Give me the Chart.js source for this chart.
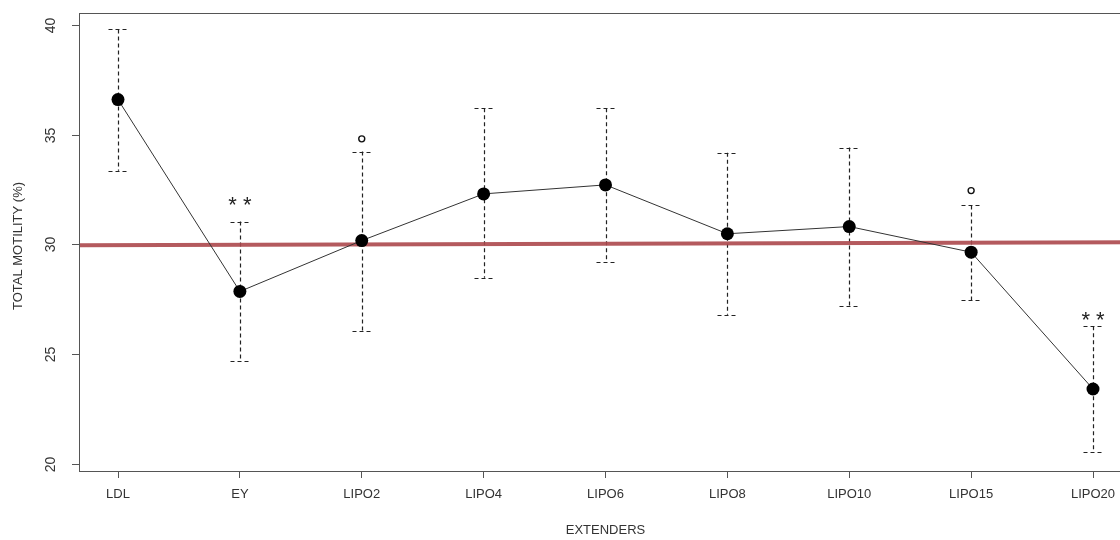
<!DOCTYPE html>
<html>
<head>
<meta charset="utf-8">
<script src="https://cdn.jsdelivr.net/npm/chart.js@4.4.1/dist/chart.umd.min.js"></script>
<style>
  html, body { margin: 0; padding: 0; background: #fff; overflow: hidden; }
  #wrap { width: 1120px; height: 540px; overflow: hidden; }
  canvas { display: block; }
</style>
</head>
<body>
<div id="wrap"><canvas id="chart" width="1140" height="540"></canvas></div>
<script>
// values
const categories = ['LDL', 'EY', 'LIPO2', 'LIPO4', 'LIPO6', 'LIPO8', 'LIPO10', 'LIPO15', 'LIPO20'];
const means = [36.6, 27.85, 30.17, 32.3, 32.71, 30.48, 30.81, 29.64, 23.4];
const upper = [39.8, 31.04, 34.23, 36.2, 36.2, 34.18, 34.41, 31.77, 26.26];
const lower = [33.36, 24.69, 26.03, 28.47, 29.2, 26.79, 27.2, 27.44, 20.51];
const sigMarks = ['', '**', 'o', '', '', '', '', 'o', '**'];
const sigY = [null, 31.95, 34.81, null, null, null, null, 32.45, 26.7];
const refX = [0.68, 9.32];
const refY = [29.96, 30.09];
const yTicks = [20, 25, 30, 35, 40];

const FONT = '"Liberation Sans", Arial, sans-serif';
const axisColor = '#555';

// dashed error bars + frame, drawn under the points
const errorBars = {
  id: 'errorBars',
  beforeDatasetsDraw(chart) {
    const { ctx, scales: { x, y } } = chart;
    ctx.save();
    ctx.strokeStyle = '#222';
    ctx.lineWidth = 1.2;
    ctx.setLineDash([4, 3]);
    for (let i = 0; i < categories.length; i++) {
      const px = Math.round(x.getPixelForValue(i + 1)) + 0.5;
      const top = y.getPixelForValue(upper[i]);
      const bot = y.getPixelForValue(lower[i]);
      ctx.beginPath();
      ctx.moveTo(px, top);
      ctx.lineTo(px, bot);
      ctx.moveTo(px - 10, Math.round(top) + 0.5);
      ctx.lineTo(px + 10, Math.round(top) + 0.5);
      ctx.moveTo(px - 10, Math.round(bot) + 0.5);
      ctx.lineTo(px + 10, Math.round(bot) + 0.5);
      ctx.stroke();
    }
    ctx.restore();
  },
  afterDraw(chart) {
    const { ctx, chartArea: a, scales: { x, y } } = chart;
    ctx.save();
    // box
    ctx.strokeStyle = axisColor;
    ctx.lineWidth = 1;
    ctx.strokeRect(Math.round(a.left) + 0.5, Math.round(a.top) + 0.5, a.right - a.left, a.bottom - a.top);
    // y ticks, rotated labels
    ctx.fillStyle = '#333';
    ctx.font = '14px ' + FONT;
    ctx.textAlign = 'center';
    ctx.textBaseline = 'middle';
    yTicks.forEach(v => {
      const py = Math.round(y.getPixelForValue(v)) + 0.5;
      ctx.beginPath();
      ctx.moveTo(a.left - 7, py);
      ctx.lineTo(a.left, py);
      ctx.stroke();
      ctx.save();
      ctx.translate(51, py);
      ctx.rotate(-Math.PI / 2);
      ctx.fillText(String(v), 0, 0);
      ctx.restore();
    });
    ctx.save();
    ctx.font = '13px ' + FONT;
    ctx.translate(18, (a.top + a.bottom) / 2 + 4);
    ctx.rotate(-Math.PI / 2);
    ctx.fillText('TOTAL MOTILITY (%)', 0, 0);
    ctx.restore();
    // significance stars
    ctx.font = '22px ' + FONT;
    ctx.fillStyle = '#222';
    sigMarks.forEach((m, i) => {
      if (m === '**') {
        ctx.fillText('* *', x.getPixelForValue(i + 1), y.getPixelForValue(sigY[i]) + 4);
      }
    });
    ctx.restore();
  }
};

new Chart(document.getElementById('chart'), {
  type: 'scatter',
  data: {
    datasets: [
      {
        type: 'line',
        data: means.map((v, i) => ({ x: i + 1, y: v })),
        borderColor: '#333',
        borderWidth: 1,
        pointRadius: 6.5,
        pointBackgroundColor: '#000',
        pointBorderColor: '#000',
        pointBorderWidth: 0,
        tension: 0,
        order: 1
      },
      {
        type: 'line',
        data: refX.map((v, i) => ({ x: v, y: refY[i] })),
        borderColor: 'rgba(172, 72, 76, 0.9)',
        borderWidth: 4,
        pointRadius: 0,
        order: 2
      },
      {
        data: sigMarks.map((m, i) => m === 'o' ? { x: i + 1, y: sigY[i] } : null).filter(Boolean),
        pointStyle: 'circle',
        pointRadius: 3,
        borderWidth: 1.4,
        borderColor: '#111',
        backgroundColor: '#fff',
        order: 0
      }
    ]
  },
  options: {
    responsive: false,
    animation: false,
    events: [],
    layout: { padding: { left: 0, top: 13, right: 8, bottom: 0 } },
    plugins: { legend: { display: false }, tooltip: { enabled: false } },
    scales: {
      x: {
        type: 'linear',
        min: 0.68,
        max: 9.32,
        afterBuildTicks: s => { s.ticks = categories.map((c, i) => ({ value: i + 1 })); },
        afterFit: s => { s.height = 69; },
        ticks: {
          callback: v => categories[v - 1],
          color: '#333',
          font: { size: 13, family: FONT },
          padding: 9,
          maxRotation: 0,
          autoSkip: false
        },
        grid: { drawOnChartArea: false, tickLength: 7, color: axisColor },
        border: { display: false },
        title: {
          display: true,
          text: 'EXTENDERS',
          color: '#333',
          font: { size: 13, family: FONT },
          padding: { top: 10, bottom: 2 }
        }
      },
      y: {
        type: 'linear',
        min: 19.66,
        max: 40.55,
        afterBuildTicks: s => { s.ticks = yTicks.map(v => ({ value: v })); },
        afterFit: s => { s.width = 79; },
        ticks: { display: false },
        grid: { display: false },
        border: { display: false }
      }
    }
  },
  plugins: [errorBars]
});
</script>
</body>
</html>
